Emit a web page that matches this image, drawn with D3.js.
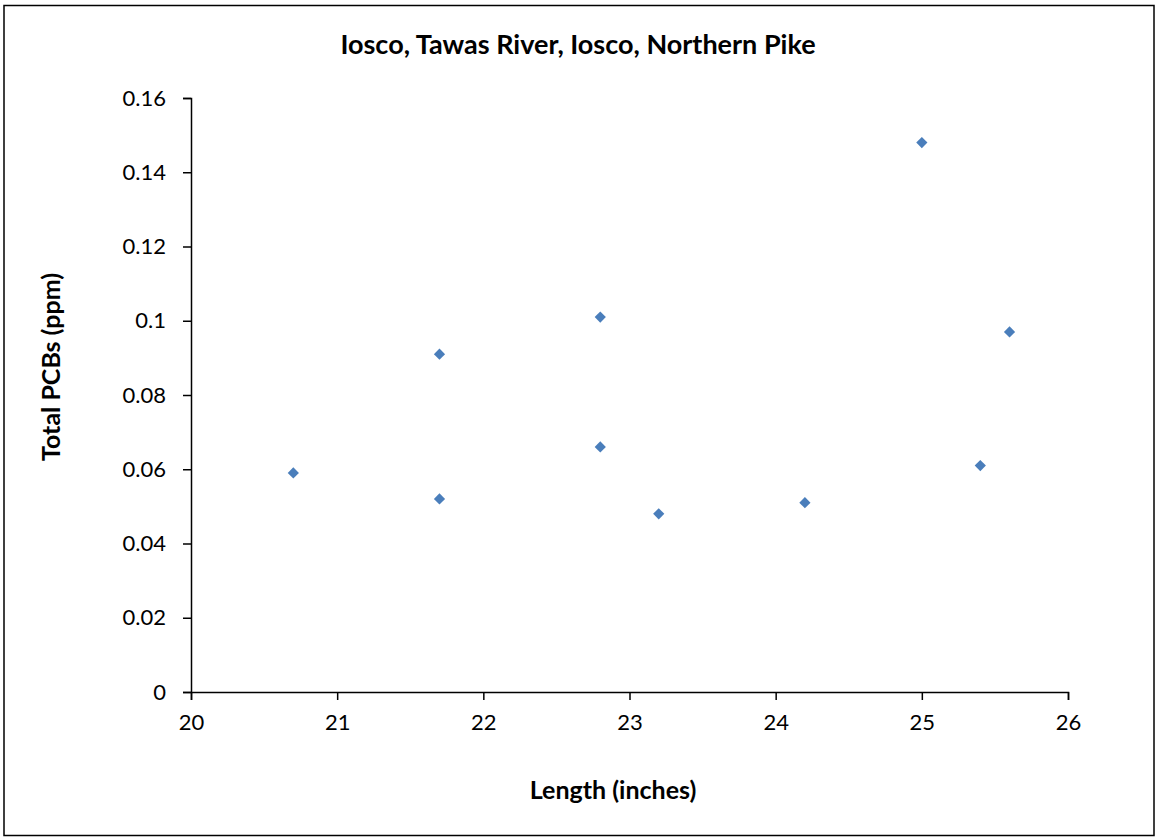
<!DOCTYPE html>
<html><head><meta charset="utf-8">
<script src="https://cdn.jsdelivr.net/npm/d3@7"></script>
<style>body{margin:0;background:#fff;} svg{display:block;font-family:Lato,"Open Sans",sans-serif;}</style>
</head><body>
<svg id="c" width="1156" height="840"></svg>
<script>
const lengths = [20.7, 21.7, 21.7, 22.8, 22.8, 23.2, 24.2, 25.0, 25.4, 25.6];
const pcbs    = [0.059, 0.091, 0.052, 0.101, 0.066, 0.048, 0.051, 0.148, 0.061, 0.097];
const xTicks = [20, 21, 22, 23, 24, 25, 26];
const yTicks = [0, 0.02, 0.04, 0.06, 0.08, 0.1, 0.12, 0.14, 0.16];
const titleText = "Iosco, Tawas River, Iosco, Northern Pike";
const xLabel = "Length (inches)";
const yLabel = "Total PCBs (ppm)";

const svg = d3.select("#c");
svg.append("rect").attr("x",4).attr("y",5.5).attr("width",1150).attr("height",830)
  .attr("fill","#fff").attr("stroke","#000").attr("stroke-width",1.5);

const x = d3.scaleLinear().domain([20,26]).range([191,1068]);
const y = d3.scaleLinear().domain([0,0.16]).range([692,98]);

const xa = svg.append("g").attr("transform","translate(0,692)")
  .call(d3.axisBottom(x).tickValues(xTicks).tickSize(8).tickPadding(14).tickFormat(d3.format("d")));
const ya = svg.append("g").attr("transform","translate(191,0)")
  .call(d3.axisLeft(y).tickValues(yTicks).tickSize(8).tickPadding(17).tickFormat(d=>String(+d.toFixed(2))));
[xa,ya].forEach(g=>{
  g.select(".domain").attr("stroke","#000").attr("stroke-width",1.5);
  g.selectAll(".tick line").attr("stroke","#000").attr("stroke-width",1.5);
  g.selectAll("text").attr("fill","#000").style("font-size","22px").style("font-family","Lato, 'Open Sans', sans-serif");
});

const sym = d3.symbol().type(d3.symbolDiamond2).size(80);
svg.append("g").selectAll("path").data(lengths.map((l,i)=>[l,pcbs[i]])).join("path")
  .attr("transform",d=>`translate(${x(d[0])},${y(d[1])})`)
  .attr("d",sym).attr("fill","#4a7ebb");

svg.append("text").attr("x",578).attr("y",54).attr("text-anchor","middle")
  .style("font-size","27px").style("font-weight","bold").text(titleText);
svg.append("text").attr("x",613).attr("y",799).attr("text-anchor","middle")
  .style("font-size","25px").style("font-weight","bold").text(xLabel);
svg.append("text").attr("transform","translate(60,367) rotate(-90)").attr("text-anchor","middle")
  .style("font-size","25px").style("font-weight","bold").text(yLabel);
</script>
</body></html>
